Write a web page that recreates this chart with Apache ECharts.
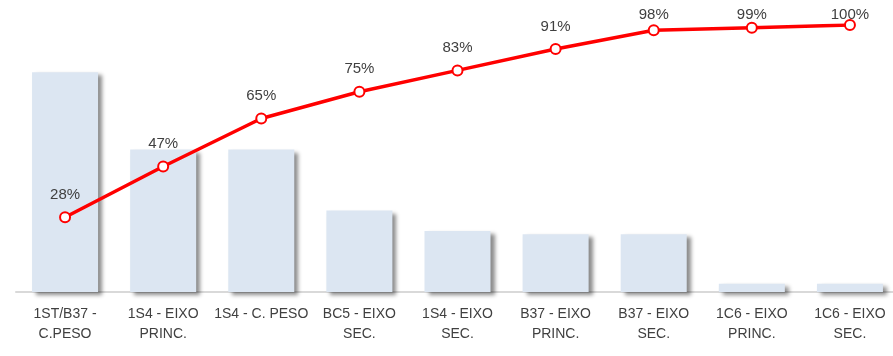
<!DOCTYPE html>
<html>
<head>
<meta charset="utf-8">
<script src="https://cdn.jsdelivr.net/npm/echarts@6/dist/echarts.min.js"></script>
<style>
  html, body { margin: 0; padding: 0; background: #ffffff; overflow: hidden; }
  /* the plot area runs a few pixels past the right edge of the window */
  #chart { width: 899px; height: 356px; }
</style>
</head>
<body>
<div id="chart"></div>
<script>
// Pareto: occurrences per element (bars) and cumulative share (line)
const categories = [
  '1ST/B37 -\nC.PESO',
  '1S4 - EIXO\nPRINC.',
  '1S4 - C. PESO',
  'BC5 - EIXO\nSEC.',
  '1S4 - EIXO\nSEC.',
  'B37 - EIXO\nPRINC.',
  'B37 - EIXO\nSEC.',
  '1C6 - EIXO\nPRINC.',
  '1C6 - EIXO\nSEC.'
];
const counts = [27, 17.5, 17.5, 10, 7.5, 7.1, 7.1, 1, 1];
const cumulativePct = [28, 47, 65, 75, 83, 91, 98, 99, 100];

const chart = echarts.init(document.getElementById('chart'), null, { renderer: 'canvas' });

const textColor = '#404040';
const font = '"Liberation Sans", Arial, sans-serif';

chart.setOption({
  animation: false,
  backgroundColor: '#ffffff',
  grid: { left: 16, right: 0, top: 25, height: 267, containLabel: false },
  xAxis: {
    type: 'category',
    data: categories,
    boundaryGap: true,
    axisLine: { show: true, lineStyle: { color: '#d9d9d9', width: 2 } },
    axisTick: { show: false },
    axisLabel: {
      interval: 0,
      color: textColor,
      fontFamily: font,
      fontSize: 14,
      lineHeight: 20,
      margin: 12
    },
    splitLine: { show: false }
  },
  yAxis: [
    {
      type: 'value', min: 0, max: 32.8,
      show: false, splitLine: { show: false }
    },
    {
      type: 'value', min: 0, max: 100,
      show: false, splitLine: { show: false }
    }
  ],
  series: [
    {
      name: 'Ocorrências',
      type: 'bar',
      yAxisIndex: 0,
      data: counts,
      barWidth: 66,
      itemStyle: {
        color: '#dce6f2',
        shadowColor: 'rgba(0,0,0,0.45)',
        shadowBlur: 4,
        shadowOffsetX: 4,
        shadowOffsetY: 3
      }
    },
    {
      name: '% acumulado',
      type: 'line',
      yAxisIndex: 1,
      data: cumulativePct,
      z: 5,
      symbol: 'circle',
      symbolSize: 10,
      lineStyle: { color: '#ff0000', width: 3.5 },
      itemStyle: { color: '#ffffff', borderColor: '#ff0000', borderWidth: 2 },
      label: {
        show: true,
        position: 'top',
        distance: 9,
        color: textColor,
        fontFamily: font,
        fontSize: 15,
        formatter: p => p.value + '%'
      },
      // keep labels inside the top of the plot area
      labelLayout: function (params) {
        const r = params.labelRect;
        const minTop = 7;
        return { dy: r.y < minTop ? minTop - r.y : 0 };
      }
    }
  ]
});
</script>
</body>
</html>
